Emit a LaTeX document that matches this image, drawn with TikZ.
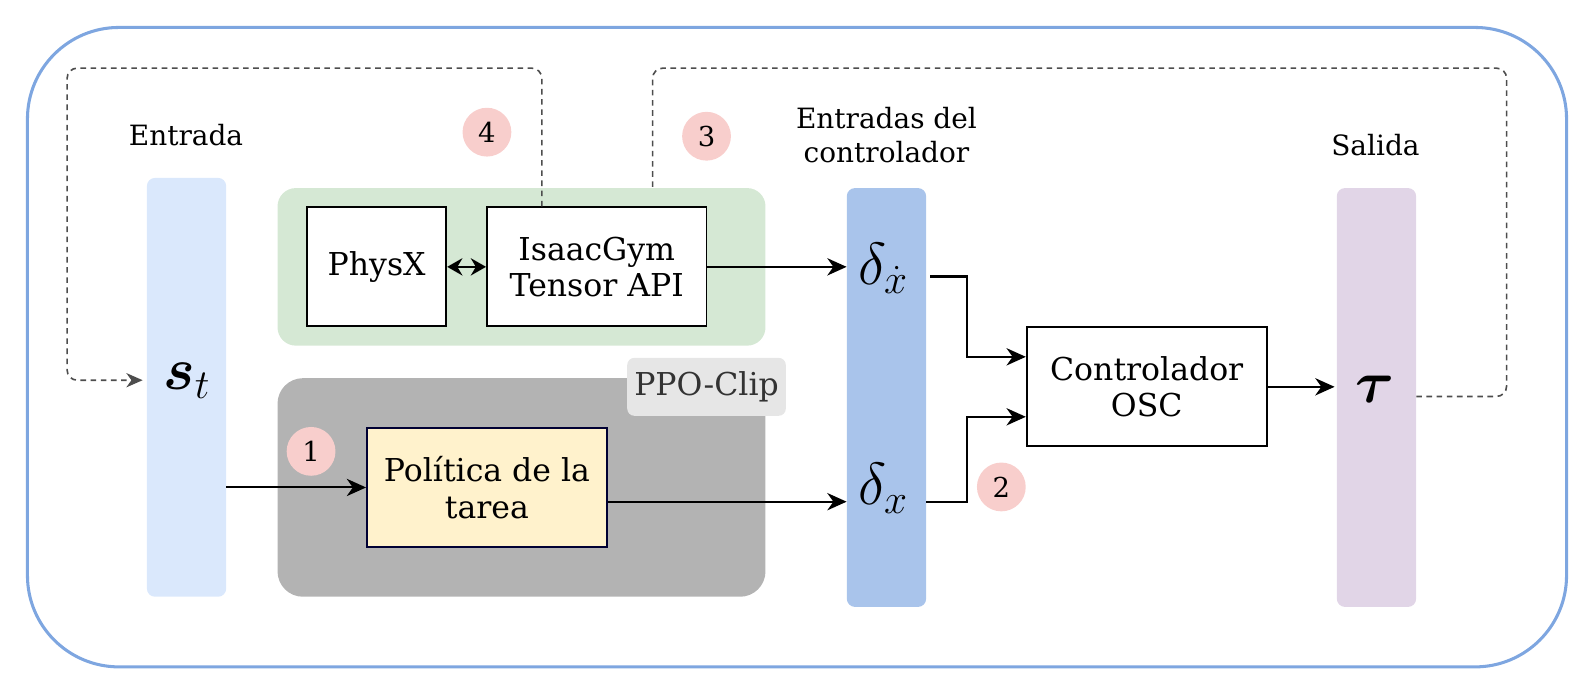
\documentclass[tikz,border=0pt]{standalone}
\usepackage{bm}
\usepackage{fontspec}
\setmainfont{DejaVu Serif}
\usetikzlibrary{arrows.meta}
\definecolor{outerblue}{HTML}{7EA6E0}
\definecolor{stblue}{HTML}{DAE8FC}
\definecolor{simgreen}{HTML}{D5E8D4}
\definecolor{ppogray}{HTML}{B3B3B3}
\definecolor{ppolabel}{HTML}{E6E6E6}
\definecolor{ppotext}{HTML}{333333}
\definecolor{polfill}{HTML}{FFF2CC}
\definecolor{polborder}{HTML}{000033}
\definecolor{deltablue}{HTML}{A9C4EB}
\definecolor{taupurple}{HTML}{E1D5E7}
\definecolor{numpink}{HTML}{F8CECC}
\definecolor{dashgray}{HTML}{4D4D4D}
\newcommand{\bigmath}[1]{\scalebox{2.35}{$#1$}}
\tikzset{
  bar/.style={rounded corners=8pt, inner sep=0pt, minimum width=78pt, minimum height=412pt},
  whitebox/.style={draw=black, line width=1.8pt, fill=white, inner sep=0pt, align=center,
     font=\fontsize{31}{36}\selectfont},
  grouping/.style={inner sep=0pt},
  numcirc/.style={circle, fill=numpink, minimum size=48pt, inner sep=0pt,
     font=\fontsize{27}{30}\selectfont},
  lbl/.style={align=center, font=\fontsize{27.5}{33}\selectfont, inner sep=0pt},
  mathlbl/.style={inner sep=0pt, font=\fontsize{24}{28}\selectfont},
  arr/.style={line width=2pt, -{Stealth[length=19pt,width=17pt,inset=6pt]}},
  fb/.style={dashgray, line width=1.6pt, dash pattern=on 5.5pt off 4.5pt, rounded corners=10pt},
}
\begin{document}
\begin{tikzpicture}[x=1pt,y=-1pt]
\useasboundingbox (0,0) rectangle (1568,683);
% outer frame
\draw[outerblue, line width=3pt, rounded corners=90pt] (27,27) rectangle (1541,656);

% groups
\node[grouping, fill=simgreen, rounded corners=18pt, minimum width=480pt, minimum height=155pt] (sim) at (513,262.5) {};
\node[grouping, fill=ppogray, rounded corners=25pt, minimum width=480pt, minimum height=215pt] (ppo) at (513,479.5) {};
\node[grouping, fill=ppolabel, rounded corners=7pt, minimum width=156pt, minimum height=57pt,
      text=ppotext, font=\fontsize{31}{36}\selectfont] (ppolbl) at (695,380.5) {PPO-Clip};

% bars
\node[bar, fill=stblue] (st) at (183.5,381) {};
\node[bar, fill=deltablue] (dbar) at (872,391) {};
\node[bar, fill=taupurple] (tbar) at (1354,391) {};

% boxes
\node[whitebox, minimum width=137pt, minimum height=117pt] (physx) at (370.5,262.5) {PhysX};
\node[whitebox, minimum width=216pt, minimum height=117pt] (isaac) at (587,262.5) {IsaacGym\\Tensor API};
\node[whitebox, fill=polfill, draw=polborder, minimum width=236pt, minimum height=117pt] (pol) at (479,479.5) {Política de la\\tarea};
\node[whitebox, minimum width=236pt, minimum height=117pt] (osc) at (1128,380.5) {Controlador\\OSC};

% labels
\node[lbl] (lentrada) at (183,133) {Entrada};
\node[lbl] (lctrl) at (872,133) {Entradas del\\controlador};
\node[lbl] (lsalida) at (1353,143) {Salida};

% math labels
\node[mathlbl] (stl) at (184,375) {\bigmath{\bm{s}_t}};
\node[mathlbl] (dxdot) at (869,264) {\bigmath{\delta_{\dot{x}}}};
\node[mathlbl] (dx) at (869,480) {\bigmath{\delta_{x}}};
\node[mathlbl] (tau) at (1353,383) {\bigmath{\bm{\tau}}};

% numbered circles
\node[numcirc] (n1) at (306,444) {1};
\node[numcirc] (n2) at (985,479) {2};
\node[numcirc] (n3) at (695,134) {3};
\node[numcirc] (n4) at (479,130) {4};

% connectors
\draw[line width=2pt, {Stealth[length=15pt,width=17pt,inset=5pt]}-{Stealth[length=15pt,width=17pt,inset=5pt]}] (physx.east) -- (isaac.west);
\draw[arr] (isaac.east) -- (isaac.east -| dbar.west);
\draw[arr] (st.east |- pol.west) -- (pol.west);
\coordinate (polout) at ([yshift=-14pt]pol.east);
\draw[arr] (polout) -- (polout -| dbar.west);
\coordinate (dxdotout) at (915,272);
\coordinate (dxout) at (dbar.east |- 0,494);
\draw[arr] (dxdotout) -- (951,272) -- (951,351) -- (osc.west |- 0,351);
\draw[arr] (dxout) -- (951,494) -- (951,410) -- (osc.west |- 0,410);
\draw[arr] (osc.east) -- ([xshift=-2pt]tbar.west |- osc.east);

% feedback dashed loops
\coordinate (fbstart) at (533,203);
\draw[fb, -{Stealth[length=16pt,width=14pt,inset=5pt]}] (fbstart) -- (533,67) -- (66,67) -- (66,374) -- ([xshift=-4pt]st.west |- 0,374);
\coordinate (fbtau) at (tbar.east |- 0,390);
\draw[fb] (fbtau) -- (1482,390) -- (1482,67) -- (642,67) -- (642,185);
\end{tikzpicture}
\end{document}
